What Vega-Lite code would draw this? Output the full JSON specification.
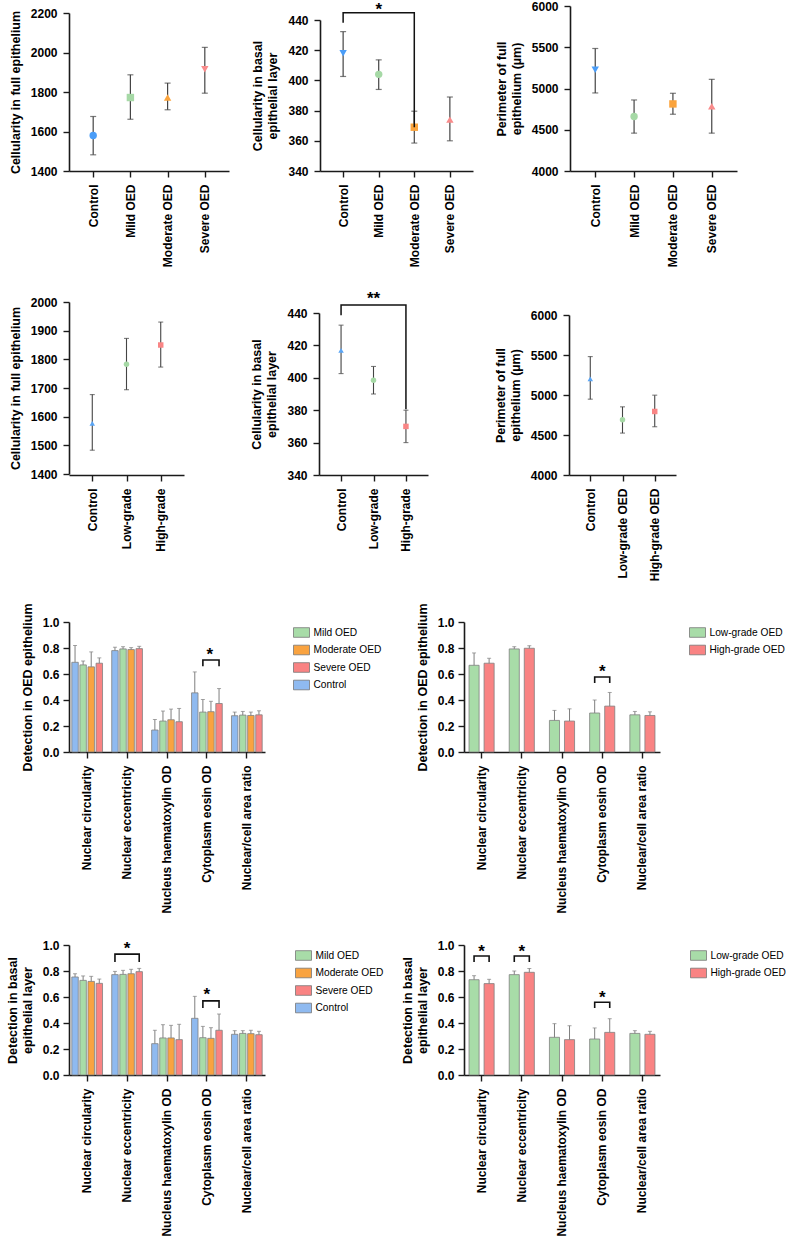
{
"$schema": "https://vega.github.io/schema/vega-lite/v6.json",
"background": "white",
"padding": {"left": 6, "top": 0, "right": 0, "bottom": 0},
"config": {
  "font": "Liberation Sans",
  "view": {"stroke": null},
  "axis": {"labelFont": "Liberation Sans", "labelFontSize": 12, "labelFontWeight": "bold", "labelColor": "#000", "titleFont": "Liberation Sans", "titleFontSize": 12.5, "titleFontWeight": "bold", "titleColor": "#000", "titleLineHeight": 15, "domainColor": "#1a1a1a", "domainWidth": 1.6, "tickColor": "#1a1a1a", "tickWidth": 1.4, "tickSize": 6, "grid": false, "labelPadding": 6, "titlePadding": 8, "labelOverlap": false, "labelFlush": false},
  "axisX": {"labelAngle": -90, "labelPadding": 7},
  "legend": {"symbolType": "M-1,-0.6H1V0.6H-1Z", "symbolSize": 256, "symbolStrokeColor": "#777", "symbolStrokeWidth": 0.8, "symbolOpacity": 1, "labelFont": "Liberation Sans", "labelFontSize": 10.2, "labelColor": "#000", "rowPadding": 2.5, "labelOffset": 3.5, "padding": 2, "orient": "right"}
},
"resolve": {"scale": {"color": "independent", "shape": "independent", "xOffset": "independent"}, "legend": {"color": "independent", "shape": "independent"}},
"spacing": 21,
"vconcat": [
{
"spacing": 23,
"resolve": {"scale": {"color": "independent", "shape": "independent"}, "legend": {"color": "independent", "shape": "independent"}},
"vconcat": [
{
 "hconcat": [
  {
   "width": 160, "height": 165,
   "data": {"values": [
     {"g": "Control", "mean": 1580, "lo": 1482, "hi": 1676},
     {"g": "Mild OED", "mean": 1772, "lo": 1662, "hi": 1887},
     {"g": "Moderate OED", "mean": 1772, "lo": 1710, "hi": 1845},
     {"g": "Severe OED", "mean": 1915, "lo": 1794, "hi": 2026}
   ]},
   "encoding": {"x": {"field": "g", "type": "nominal", "scale": {"type": "point", "padding": 0.65, "domain": ["Control", "Mild OED", "Moderate OED", "Severe OED"]}, "axis": {"title": null}}},
   "layer": [
    {"mark": {"type": "rule", "color": "#444", "strokeWidth": 1.2},
     "encoding": {"y": {"field": "lo", "type": "quantitative", "scale": {"domain": [1400, 2200], "range": [165, 7], "nice": false, "zero": false}, "axis": {"title": "Cellularity in full epithelium", "values": [1400, 1600, 1800, 2000, 2200], "format": "d"}}, "y2": {"field": "hi"}}},
    {"mark": {"type": "tick", "orient": "horizontal", "size": 6, "thickness": 1.2, "color": "#444"},
     "encoding": {"y": {"field": "lo", "type": "quantitative", "scale": {"domain": [1400, 2200], "range": [165, 7], "nice": false, "zero": false}, "axis": {"title": "Cellularity in full epithelium", "values": [1400, 1600, 1800, 2000, 2200], "format": "d"}}}},
    {"mark": {"type": "tick", "orient": "horizontal", "size": 6, "thickness": 1.2, "color": "#444"},
     "encoding": {"y": {"field": "hi", "type": "quantitative", "scale": {"domain": [1400, 2200], "range": [165, 7], "nice": false, "zero": false}, "axis": {"title": "Cellularity in full epithelium", "values": [1400, 1600, 1800, 2000, 2200], "format": "d"}}}},
    {"mark": {"type": "point", "filled": true, "opacity": 1, "size": 55},
     "encoding": {"y": {"field": "mean", "type": "quantitative", "scale": {"domain": [1400, 2200], "range": [165, 7], "nice": false, "zero": false}, "axis": {"title": "Cellularity in full epithelium", "values": [1400, 1600, 1800, 2000, 2200], "format": "d"}},
       "color": {"field": "g", "type": "nominal", "scale": {"domain": ["Control", "Mild OED", "Moderate OED", "Severe OED"], "range": ["#4a9df8", "#a6d9a6", "#fba43d", "#f98b8b"]}, "legend": null},
       "shape": {"field": "g", "type": "nominal", "scale": {"domain": ["Control", "Mild OED", "Moderate OED", "Severe OED"], "range": ["circle", "square", "triangle-up", "triangle-down"]}, "legend": null}}}
   ]
  },
  {
   "width": 153, "height": 165,
   "data": {"values": [
     {"g": "Control", "mean": 418, "lo": 402.6, "hi": 432.3},
     {"g": "Mild OED", "mean": 404, "lo": 394, "hi": 413.6},
     {"g": "Moderate OED", "mean": 369, "lo": 358.5, "hi": 379.6},
     {"g": "Severe OED", "mean": 374, "lo": 360, "hi": 389}
   ]},
   "encoding": {"x": {"field": "g", "type": "nominal", "scale": {"type": "point", "padding": 0.65, "domain": ["Control", "Mild OED", "Moderate OED", "Severe OED"]}, "axis": {"title": null}}},
   "layer": [
    {"mark": {"type": "rule", "color": "#444", "strokeWidth": 1.2},
     "encoding": {"y": {"field": "lo", "type": "quantitative", "scale": {"domain": [340, 440], "range": [165, 14], "nice": false, "zero": false}, "axis": {"title": ["Cellularity in basal", "epithelial layer"], "values": [340, 360, 380, 400, 420, 440]}}, "y2": {"field": "hi"}}},
    {"mark": {"type": "tick", "orient": "horizontal", "size": 6, "thickness": 1.2, "color": "#444"},
     "encoding": {"y": {"field": "lo", "type": "quantitative", "scale": {"domain": [340, 440], "range": [165, 14], "nice": false, "zero": false}, "axis": {"title": ["Cellularity in basal", "epithelial layer"], "values": [340, 360, 380, 400, 420, 440]}}}},
    {"mark": {"type": "tick", "orient": "horizontal", "size": 6, "thickness": 1.2, "color": "#444"},
     "encoding": {"y": {"field": "hi", "type": "quantitative", "scale": {"domain": [340, 440], "range": [165, 14], "nice": false, "zero": false}, "axis": {"title": ["Cellularity in basal", "epithelial layer"], "values": [340, 360, 380, 400, 420, 440]}}}},
    {"mark": {"type": "point", "filled": true, "opacity": 1, "size": 55},
     "encoding": {"y": {"field": "mean", "type": "quantitative", "scale": {"domain": [340, 440], "range": [165, 14], "nice": false, "zero": false}, "axis": {"title": ["Cellularity in basal", "epithelial layer"], "values": [340, 360, 380, 400, 420, 440]}},
       "color": {"field": "g", "type": "nominal", "scale": {"domain": ["Control", "Mild OED", "Moderate OED", "Severe OED"], "range": ["#4a9df8", "#a6d9a6", "#fba43d", "#f98b8b"]}, "legend": null},
       "shape": {"field": "g", "type": "nominal", "scale": {"domain": ["Control", "Mild OED", "Moderate OED", "Severe OED"], "range": ["triangle-down", "circle", "square", "triangle-up"]}, "legend": null}}},
    {"data": {"values": [
       {"g": "Control", "v": 438.7, "o": 1},
       {"g": "Control", "v": 444.8, "o": 2},
       {"g": "Moderate OED", "v": 444.8, "o": 3},
       {"g": "Moderate OED", "v": 369.5, "o": 4}
     ]},
     "mark": {"type": "line", "color": "#111", "strokeWidth": 1.5, "strokeCap": "square"},
     "encoding": {"y": {"field": "v", "type": "quantitative", "scale": {"domain": [340, 440], "range": [165, 14], "nice": false, "zero": false}, "axis": {"title": ["Cellularity in basal", "epithelial layer"], "values": [340, 360, 380, 400, 420, 440]}}, "order": {"field": "o", "type": "quantitative"}}},
    {"data": {"values": [{"g": "Mild OED", "v": 449.5, "s": "*"}]},
     "mark": {"type": "text", "fontSize": 17, "fontWeight": "bold", "baseline": "alphabetic", "dy": 9, "color": "#000"},
     "encoding": {"y": {"field": "v", "type": "quantitative", "scale": {"domain": [340, 440], "range": [165, 14], "nice": false, "zero": false}, "axis": {"title": ["Cellularity in basal", "epithelial layer"], "values": [340, 360, 380, 400, 420, 440]}}, "text": {"field": "s"}}}
   ]
  },
  {
   "width": 167, "height": 165,
   "data": {"values": [
     {"g": "Control", "mean": 5227, "lo": 4946, "hi": 5485},
     {"g": "Mild OED", "mean": 4660, "lo": 4459, "hi": 4861},
     {"g": "Moderate OED", "mean": 4813, "lo": 4688, "hi": 4942},
     {"g": "Severe OED", "mean": 4785, "lo": 4459, "hi": 5111}
   ]},
   "encoding": {"x": {"field": "g", "type": "nominal", "scale": {"type": "point", "padding": 0.65, "domain": ["Control", "Mild OED", "Moderate OED", "Severe OED"]}, "axis": {"title": null}}},
   "layer": [
    {"mark": {"type": "rule", "color": "#444", "strokeWidth": 1.2},
     "encoding": {"y": {"field": "lo", "type": "quantitative", "scale": {"domain": [4000, 6000], "range": [165, 0], "nice": false, "zero": false}, "axis": {"title": ["Perimeter of full", "epithelium (µm)"], "values": [4000, 4500, 5000, 5500, 6000], "format": "d"}}, "y2": {"field": "hi"}}},
    {"mark": {"type": "tick", "orient": "horizontal", "size": 6, "thickness": 1.2, "color": "#444"},
     "encoding": {"y": {"field": "lo", "type": "quantitative", "scale": {"domain": [4000, 6000], "range": [165, 0], "nice": false, "zero": false}, "axis": {"title": ["Perimeter of full", "epithelium (µm)"], "values": [4000, 4500, 5000, 5500, 6000], "format": "d"}}}},
    {"mark": {"type": "tick", "orient": "horizontal", "size": 6, "thickness": 1.2, "color": "#444"},
     "encoding": {"y": {"field": "hi", "type": "quantitative", "scale": {"domain": [4000, 6000], "range": [165, 0], "nice": false, "zero": false}, "axis": {"title": ["Perimeter of full", "epithelium (µm)"], "values": [4000, 4500, 5000, 5500, 6000], "format": "d"}}}},
    {"mark": {"type": "point", "filled": true, "opacity": 1, "size": 55},
     "encoding": {"y": {"field": "mean", "type": "quantitative", "scale": {"domain": [4000, 6000], "range": [165, 0], "nice": false, "zero": false}, "axis": {"title": ["Perimeter of full", "epithelium (µm)"], "values": [4000, 4500, 5000, 5500, 6000], "format": "d"}},
       "color": {"field": "g", "type": "nominal", "scale": {"domain": ["Control", "Mild OED", "Moderate OED", "Severe OED"], "range": ["#4a9df8", "#a6d9a6", "#fba43d", "#f98b8b"]}, "legend": null},
       "shape": {"field": "g", "type": "nominal", "scale": {"domain": ["Control", "Mild OED", "Moderate OED", "Severe OED"], "range": ["triangle-down", "circle", "square", "triangle-up"]}, "legend": null}}}
   ]
  }
 ],
 "spacing": 22,
 "resolve": {"scale": {"color": "independent", "shape": "independent"}, "legend": {"color": "independent", "shape": "independent"}}
},
{
 "hconcat": [
  {
   "width": 115, "height": 173,
   "data": {"values": [
     {"g": "Control", "mean": 1577, "lo": 1483, "hi": 1677},
     {"g": "Low-grade", "mean": 1783, "lo": 1694, "hi": 1873},
     {"g": "High-grade", "mean": 1850, "lo": 1773, "hi": 1930}
   ]},
   "encoding": {"x": {"field": "g", "type": "nominal", "scale": {"type": "point", "padding": 0.68, "domain": ["Control", "Low-grade", "High-grade"]}, "axis": {"title": null}}},
   "layer": [
    {"mark": {"type": "rule", "color": "#444", "strokeWidth": 1.1},
     "encoding": {"y": {"field": "lo", "type": "quantitative", "scale": {"domain": [1400, 2000], "range": [172, 0], "nice": false, "zero": false}, "axis": {"title": "Cellularity in full epithelium", "values": [1400, 1500, 1600, 1700, 1800, 1900, 2000], "format": "d"}}, "y2": {"field": "hi"}}},
    {"mark": {"type": "tick", "orient": "horizontal", "size": 5, "thickness": 1.1, "color": "#444"},
     "encoding": {"y": {"field": "lo", "type": "quantitative", "scale": {"domain": [1400, 2000], "range": [172, 0], "nice": false, "zero": false}, "axis": {"title": "Cellularity in full epithelium", "values": [1400, 1500, 1600, 1700, 1800, 1900, 2000], "format": "d"}}}},
    {"mark": {"type": "tick", "orient": "horizontal", "size": 5, "thickness": 1.1, "color": "#444"},
     "encoding": {"y": {"field": "hi", "type": "quantitative", "scale": {"domain": [1400, 2000], "range": [172, 0], "nice": false, "zero": false}, "axis": {"title": "Cellularity in full epithelium", "values": [1400, 1500, 1600, 1700, 1800, 1900, 2000], "format": "d"}}}},
    {"mark": {"type": "point", "filled": true, "opacity": 1, "size": 30},
     "encoding": {"y": {"field": "mean", "type": "quantitative", "scale": {"domain": [1400, 2000], "range": [172, 0], "nice": false, "zero": false}, "axis": {"title": "Cellularity in full epithelium", "values": [1400, 1500, 1600, 1700, 1800, 1900, 2000], "format": "d"}},
       "color": {"field": "g", "type": "nominal", "scale": {"domain": ["Control", "Low-grade", "High-grade"], "range": ["#5aa5f5", "#a6d9a6", "#f98585"]}, "legend": null},
       "shape": {"field": "g", "type": "nominal", "scale": {"domain": ["Control", "Low-grade", "High-grade"], "range": ["triangle-up", "circle", "square"]}, "legend": null}}}
   ]
  },
  {
   "width": 109, "height": 173,
   "data": {"values": [
     {"g": "Control", "mean": 417, "lo": 402.6, "hi": 432.5},
     {"g": "Low-grade", "mean": 398.5, "lo": 390, "hi": 407},
     {"g": "High-grade", "mean": 370, "lo": 360, "hi": 380}
   ]},
   "encoding": {"x": {"field": "g", "type": "nominal", "scale": {"type": "point", "padding": 0.68, "domain": ["Control", "Low-grade", "High-grade"]}, "axis": {"title": null}}},
   "layer": [
    {"mark": {"type": "rule", "color": "#444", "strokeWidth": 1.1},
     "encoding": {"y": {"field": "lo", "type": "quantitative", "scale": {"domain": [340, 440], "range": [173, 11], "nice": false, "zero": false}, "axis": {"title": ["Cellularity in basal", "epithelial layer"], "values": [340, 360, 380, 400, 420, 440]}}, "y2": {"field": "hi"}}},
    {"mark": {"type": "tick", "orient": "horizontal", "size": 5, "thickness": 1.1, "color": "#444"},
     "encoding": {"y": {"field": "lo", "type": "quantitative", "scale": {"domain": [340, 440], "range": [173, 11], "nice": false, "zero": false}, "axis": {"title": ["Cellularity in basal", "epithelial layer"], "values": [340, 360, 380, 400, 420, 440]}}}},
    {"mark": {"type": "tick", "orient": "horizontal", "size": 5, "thickness": 1.1, "color": "#444"},
     "encoding": {"y": {"field": "hi", "type": "quantitative", "scale": {"domain": [340, 440], "range": [173, 11], "nice": false, "zero": false}, "axis": {"title": ["Cellularity in basal", "epithelial layer"], "values": [340, 360, 380, 400, 420, 440]}}}},
    {"mark": {"type": "point", "filled": true, "opacity": 1, "size": 30},
     "encoding": {"y": {"field": "mean", "type": "quantitative", "scale": {"domain": [340, 440], "range": [173, 11], "nice": false, "zero": false}, "axis": {"title": ["Cellularity in basal", "epithelial layer"], "values": [340, 360, 380, 400, 420, 440]}},
       "color": {"field": "g", "type": "nominal", "scale": {"domain": ["Control", "Low-grade", "High-grade"], "range": ["#5aa5f5", "#a6d9a6", "#f98585"]}, "legend": null},
       "shape": {"field": "g", "type": "nominal", "scale": {"domain": ["Control", "Low-grade", "High-grade"], "range": ["triangle-up", "circle", "square"]}, "legend": null}}},
    {"data": {"values": [
       {"g": "Control", "v": 439, "o": 1},
       {"g": "Control", "v": 445, "o": 2},
       {"g": "High-grade", "v": 445, "o": 3},
       {"g": "High-grade", "v": 381, "o": 4}
     ]},
     "mark": {"type": "line", "color": "#111", "strokeWidth": 1.5, "strokeCap": "square"},
     "encoding": {"y": {"field": "v", "type": "quantitative", "scale": {"domain": [340, 440], "range": [173, 11], "nice": false, "zero": false}, "axis": {"title": ["Cellularity in basal", "epithelial layer"], "values": [340, 360, 380, 400, 420, 440]}}, "order": {"field": "o", "type": "quantitative"}}},
    {"data": {"values": [{"g": "Low-grade", "v": 451, "s": "**"}]},
     "mark": {"type": "text", "fontSize": 17, "fontWeight": "bold", "baseline": "alphabetic", "dy": 9, "color": "#000"},
     "encoding": {"y": {"field": "v", "type": "quantitative", "scale": {"domain": [340, 440], "range": [173, 11], "nice": false, "zero": false}, "axis": {"title": ["Cellularity in basal", "epithelial layer"], "values": [340, 360, 380, 400, 420, 440]}}, "text": {"field": "s"}}}
   ]
  },
  {
   "width": 107, "height": 173,
   "data": {"values": [
     {"g": "Control", "mean": 5202, "lo": 4948, "hi": 5480},
     {"g": "Low-grade OED", "mean": 4690, "lo": 4524, "hi": 4852},
     {"g": "High-grade OED", "mean": 4794, "lo": 4603, "hi": 4998}
   ]},
   "encoding": {"x": {"field": "g", "type": "nominal", "scale": {"type": "point", "padding": 0.66, "domain": ["Control", "Low-grade OED", "High-grade OED"]}, "axis": {"title": null}}},
   "layer": [
    {"mark": {"type": "rule", "color": "#444", "strokeWidth": 1.1},
     "encoding": {"y": {"field": "lo", "type": "quantitative", "scale": {"domain": [4000, 6000], "range": [173, 13], "nice": false, "zero": false}, "axis": {"title": ["Perimeter of full", "epithelium (µm)"], "values": [4000, 4500, 5000, 5500, 6000], "format": "d"}}, "y2": {"field": "hi"}}},
    {"mark": {"type": "tick", "orient": "horizontal", "size": 5, "thickness": 1.1, "color": "#444"},
     "encoding": {"y": {"field": "lo", "type": "quantitative", "scale": {"domain": [4000, 6000], "range": [173, 13], "nice": false, "zero": false}, "axis": {"title": ["Perimeter of full", "epithelium (µm)"], "values": [4000, 4500, 5000, 5500, 6000], "format": "d"}}}},
    {"mark": {"type": "tick", "orient": "horizontal", "size": 5, "thickness": 1.1, "color": "#444"},
     "encoding": {"y": {"field": "hi", "type": "quantitative", "scale": {"domain": [4000, 6000], "range": [173, 13], "nice": false, "zero": false}, "axis": {"title": ["Perimeter of full", "epithelium (µm)"], "values": [4000, 4500, 5000, 5500, 6000], "format": "d"}}}},
    {"mark": {"type": "point", "filled": true, "opacity": 1, "size": 30},
     "encoding": {"y": {"field": "mean", "type": "quantitative", "scale": {"domain": [4000, 6000], "range": [173, 13], "nice": false, "zero": false}, "axis": {"title": ["Perimeter of full", "epithelium (µm)"], "values": [4000, 4500, 5000, 5500, 6000], "format": "d"}},
       "color": {"field": "g", "type": "nominal", "scale": {"domain": ["Control", "Low-grade OED", "High-grade OED"], "range": ["#5aa5f5", "#a6d9a6", "#f98585"]}, "legend": null},
       "shape": {"field": "g", "type": "nominal", "scale": {"domain": ["Control", "Low-grade OED", "High-grade OED"], "range": ["triangle-up", "circle", "square"]}, "legend": null}}}
   ]
  }
 ],
 "spacing": 66,
 "resolve": {"scale": {"color": "independent", "shape": "independent"}, "legend": {"color": "independent", "shape": "independent"}}
}
]
},
{
"spacing": 25,
"resolve": {"scale": {"color": "independent", "xOffset": "independent"}, "legend": {"color": "independent"}},
"vconcat": [
{
 "hconcat": [
  {
   "width": 196, "height": 130,
   "data": {"values": [
     {"m": "Nuclear circularity", "g": "Control", "v": 0.69, "e": 0.82},
     {"m": "Nuclear circularity", "g": "Mild OED", "v": 0.67, "e": 0.70},
     {"m": "Nuclear circularity", "g": "Moderate OED", "v": 0.655, "e": 0.77},
     {"m": "Nuclear circularity", "g": "Severe OED", "v": 0.683, "e": 0.724},
     {"m": "Nuclear eccentricity", "g": "Control", "v": 0.78, "e": 0.806},
     {"m": "Nuclear eccentricity", "g": "Mild OED", "v": 0.793, "e": 0.81},
     {"m": "Nuclear eccentricity", "g": "Moderate OED", "v": 0.788, "e": 0.803},
     {"m": "Nuclear eccentricity", "g": "Severe OED", "v": 0.795, "e": 0.813},
     {"m": "Nucleus haematoxylin OD", "g": "Control", "v": 0.169, "e": 0.25},
     {"m": "Nucleus haematoxylin OD", "g": "Mild OED", "v": 0.238, "e": 0.315},
     {"m": "Nucleus haematoxylin OD", "g": "Moderate OED", "v": 0.248, "e": 0.33},
     {"m": "Nucleus haematoxylin OD", "g": "Severe OED", "v": 0.233, "e": 0.335},
     {"m": "Cytoplasm eosin OD", "g": "Control", "v": 0.455, "e": 0.616},
     {"m": "Cytoplasm eosin OD", "g": "Mild OED", "v": 0.307, "e": 0.404},
     {"m": "Cytoplasm eosin OD", "g": "Moderate OED", "v": 0.31, "e": 0.39},
     {"m": "Cytoplasm eosin OD", "g": "Severe OED", "v": 0.373, "e": 0.488},
     {"m": "Nuclear/cell area ratio", "g": "Control", "v": 0.279, "e": 0.307},
     {"m": "Nuclear/cell area ratio", "g": "Mild OED", "v": 0.284, "e": 0.312},
     {"m": "Nuclear/cell area ratio", "g": "Moderate OED", "v": 0.281, "e": 0.307},
     {"m": "Nuclear/cell area ratio", "g": "Severe OED", "v": 0.286, "e": 0.317}
   ]},
   "encoding": {
     "x": {"field": "m", "type": "nominal", "scale": {"domain": ["Nuclear circularity", "Nuclear eccentricity", "Nucleus haematoxylin OD", "Cytoplasm eosin OD", "Nuclear/cell area ratio"], "paddingInner": 0.19, "paddingOuter": 0.05}, "axis": {"title": null}},
     "xOffset": {"field": "g", "type": "nominal", "scale": {"domain": ["Control", "Mild OED", "Moderate OED", "Severe OED"], "paddingInner": 0.2, "paddingOuter": 0.1}},
     "y": {"field": "v", "type": "quantitative", "scale": {"domain": [0, 1], "nice": false}, "axis": {"title": "Detection in OED epithelium", "values": [0, 0.2, 0.4, 0.6, 0.8, 1.0], "format": ".1f", "labelPadding": 4}}
   },
   "layer": [
    {"mark": {"type": "bar", "stroke": "#808080", "strokeWidth": 0.8},
     "encoding": {"color": {"field": "g", "type": "nominal", "scale": {"domain": ["Mild OED", "Moderate OED", "Severe OED", "Control"], "range": ["#a8dca8", "#f9a340", "#f98383", "#8fbaf0"]}, "legend": {"title": null, "offset": 26}}}},
    {"mark": {"type": "rule", "color": "#7f7f7f", "strokeWidth": 1},
     "encoding": {"y2": {"field": "e"}}},
    {"mark": {"type": "tick", "orient": "horizontal", "size": 4, "thickness": 1, "color": "#7f7f7f"},
     "encoding": {"y": {"field": "e", "type": "quantitative", "scale": {"domain": [0, 1], "nice": false}, "axis": {"title": "Detection in OED epithelium", "values": [0, 0.2, 0.4, 0.6, 0.8, 1.0], "format": ".1f", "labelPadding": 4}}}},
    {"data": {"values": [
       {"m": "Cytoplasm eosin OD", "g": "Mild OED", "v": 0.66, "o": 1},
       {"m": "Cytoplasm eosin OD", "g": "Mild OED", "v": 0.708, "o": 2},
       {"m": "Cytoplasm eosin OD", "g": "Severe OED", "v": 0.708, "o": 3},
       {"m": "Cytoplasm eosin OD", "g": "Severe OED", "v": 0.66, "o": 4}
     ]},
     "mark": {"type": "line", "color": "#111", "strokeWidth": 1.6},
     "encoding": {"order": {"field": "o", "type": "quantitative"}}},
    {"data": {"values": [{"m": "Cytoplasm eosin OD", "v": 0.78, "s": "*"}]},
     "mark": {"type": "text", "fontSize": 17, "fontWeight": "bold", "baseline": "alphabetic", "dy": 9, "dx": 3, "color": "#000"},
     "encoding": {"xOffset": null, "text": {"field": "s"}}}
   ]
  },
  {
   "width": 196, "height": 130,
   "data": {"values": [
     {"m": "Nuclear circularity", "g": "Low-grade OED", "v": 0.667, "e": 0.762},
     {"m": "Nuclear circularity", "g": "High-grade OED", "v": 0.683, "e": 0.721},
     {"m": "Nuclear eccentricity", "g": "Low-grade OED", "v": 0.793, "e": 0.81},
     {"m": "Nuclear eccentricity", "g": "High-grade OED", "v": 0.798, "e": 0.818},
     {"m": "Nucleus haematoxylin OD", "g": "Low-grade OED", "v": 0.243, "e": 0.32},
     {"m": "Nucleus haematoxylin OD", "g": "High-grade OED", "v": 0.238, "e": 0.332},
     {"m": "Cytoplasm eosin OD", "g": "Low-grade OED", "v": 0.30, "e": 0.40},
     {"m": "Cytoplasm eosin OD", "g": "High-grade OED", "v": 0.353, "e": 0.458},
     {"m": "Nuclear/cell area ratio", "g": "Low-grade OED", "v": 0.286, "e": 0.312},
     {"m": "Nuclear/cell area ratio", "g": "High-grade OED", "v": 0.281, "e": 0.309}
   ]},
   "encoding": {
     "x": {"field": "m", "type": "nominal", "scale": {"domain": ["Nuclear circularity", "Nuclear eccentricity", "Nucleus haematoxylin OD", "Cytoplasm eosin OD", "Nuclear/cell area ratio"], "paddingInner": 0.375, "paddingOuter": 0.125}, "axis": {"title": null}},
     "xOffset": {"field": "g", "type": "nominal", "scale": {"domain": ["Low-grade OED", "High-grade OED"], "paddingInner": 0.33, "paddingOuter": 0}},
     "y": {"field": "v", "type": "quantitative", "scale": {"domain": [0, 1], "nice": false}, "axis": {"title": "Detection in OED epithelium", "values": [0, 0.2, 0.4, 0.6, 0.8, 1.0], "format": ".1f", "labelPadding": 4}}
   },
   "layer": [
    {"mark": {"type": "bar", "stroke": "#808080", "strokeWidth": 0.8},
     "encoding": {"color": {"field": "g", "type": "nominal", "scale": {"domain": ["Low-grade OED", "High-grade OED"], "range": ["#a8dca8", "#f98383"]}, "legend": {"title": null, "offset": 27}}}},
    {"mark": {"type": "rule", "color": "#7f7f7f", "strokeWidth": 1},
     "encoding": {"y2": {"field": "e"}}},
    {"mark": {"type": "tick", "orient": "horizontal", "size": 4, "thickness": 1, "color": "#7f7f7f"},
     "encoding": {"y": {"field": "e", "type": "quantitative", "scale": {"domain": [0, 1], "nice": false}, "axis": {"title": "Detection in OED epithelium", "values": [0, 0.2, 0.4, 0.6, 0.8, 1.0], "format": ".1f", "labelPadding": 4}}}},
    {"data": {"values": [
       {"m": "Cytoplasm eosin OD", "g": "Low-grade OED", "v": 0.53, "o": 1},
       {"m": "Cytoplasm eosin OD", "g": "Low-grade OED", "v": 0.577, "o": 2},
       {"m": "Cytoplasm eosin OD", "g": "High-grade OED", "v": 0.577, "o": 3},
       {"m": "Cytoplasm eosin OD", "g": "High-grade OED", "v": 0.53, "o": 4}
     ]},
     "mark": {"type": "line", "color": "#111", "strokeWidth": 1.6},
     "encoding": {"order": {"field": "o", "type": "quantitative"}}},
    {"data": {"values": [{"m": "Cytoplasm eosin OD", "v": 0.646, "s": "*"}]},
     "mark": {"type": "text", "fontSize": 17, "fontWeight": "bold", "baseline": "alphabetic", "dy": 9, "color": "#000"},
     "encoding": {"xOffset": null, "text": {"field": "s"}}}
   ]
  }
 ],
 "spacing": 32,
 "resolve": {"scale": {"color": "independent", "xOffset": "independent"}, "legend": {"color": "independent"}}
},
{
 "hconcat": [
  {
   "width": 196, "height": 130,
   "data": {"values": [
     {"m": "Nuclear circularity", "g": "Control", "v": 0.754, "e": 0.779},
     {"m": "Nuclear circularity", "g": "Mild OED", "v": 0.728, "e": 0.762},
     {"m": "Nuclear circularity", "g": "Moderate OED", "v": 0.72, "e": 0.759},
     {"m": "Nuclear circularity", "g": "Severe OED", "v": 0.705, "e": 0.738},
     {"m": "Nuclear eccentricity", "g": "Control", "v": 0.772, "e": 0.797},
     {"m": "Nuclear eccentricity", "g": "Mild OED", "v": 0.774, "e": 0.805},
     {"m": "Nuclear eccentricity", "g": "Moderate OED", "v": 0.779, "e": 0.813},
     {"m": "Nuclear eccentricity", "g": "Severe OED", "v": 0.795, "e": 0.82},
     {"m": "Nucleus haematoxylin OD", "g": "Control", "v": 0.241, "e": 0.344},
     {"m": "Nucleus haematoxylin OD", "g": "Mild OED", "v": 0.285, "e": 0.387},
     {"m": "Nucleus haematoxylin OD", "g": "Moderate OED", "v": 0.285, "e": 0.382},
     {"m": "Nucleus haematoxylin OD", "g": "Severe OED", "v": 0.272, "e": 0.39},
     {"m": "Cytoplasm eosin OD", "g": "Control", "v": 0.436, "e": 0.605},
     {"m": "Cytoplasm eosin OD", "g": "Mild OED", "v": 0.287, "e": 0.374},
     {"m": "Cytoplasm eosin OD", "g": "Moderate OED", "v": 0.282, "e": 0.364},
     {"m": "Cytoplasm eosin OD", "g": "Severe OED", "v": 0.344, "e": 0.469},
     {"m": "Nuclear/cell area ratio", "g": "Control", "v": 0.313, "e": 0.341},
     {"m": "Nuclear/cell area ratio", "g": "Mild OED", "v": 0.32, "e": 0.341},
     {"m": "Nuclear/cell area ratio", "g": "Moderate OED", "v": 0.318, "e": 0.344},
     {"m": "Nuclear/cell area ratio", "g": "Severe OED", "v": 0.31, "e": 0.336}
   ]},
   "encoding": {
     "x": {"field": "m", "type": "nominal", "scale": {"domain": ["Nuclear circularity", "Nuclear eccentricity", "Nucleus haematoxylin OD", "Cytoplasm eosin OD", "Nuclear/cell area ratio"], "paddingInner": 0.19, "paddingOuter": 0.05}, "axis": {"title": null}},
     "xOffset": {"field": "g", "type": "nominal", "scale": {"domain": ["Control", "Mild OED", "Moderate OED", "Severe OED"], "paddingInner": 0.2, "paddingOuter": 0.1}},
     "y": {"field": "v", "type": "quantitative", "scale": {"domain": [0, 1], "nice": false}, "axis": {"title": ["Detection in basal", "epithelial layer"], "values": [0, 0.2, 0.4, 0.6, 0.8, 1.0], "format": ".1f", "labelPadding": 4}}
   },
   "layer": [
    {"mark": {"type": "bar", "stroke": "#808080", "strokeWidth": 0.8},
     "encoding": {"color": {"field": "g", "type": "nominal", "scale": {"domain": ["Mild OED", "Moderate OED", "Severe OED", "Control"], "range": ["#a8dca8", "#f9a340", "#f98383", "#8fbaf0"]}, "legend": {"title": null, "offset": 28}}}},
    {"mark": {"type": "rule", "color": "#7f7f7f", "strokeWidth": 1},
     "encoding": {"y2": {"field": "e"}}},
    {"mark": {"type": "tick", "orient": "horizontal", "size": 4, "thickness": 1, "color": "#7f7f7f"},
     "encoding": {"y": {"field": "e", "type": "quantitative", "scale": {"domain": [0, 1], "nice": false}, "axis": {"title": ["Detection in basal", "epithelial layer"], "values": [0, 0.2, 0.4, 0.6, 0.8, 1.0], "format": ".1f", "labelPadding": 4}}}},
    {"data": {"values": [
       {"m": "Nuclear eccentricity", "g": "Control", "b": "b1", "v": 0.87, "o": 1},
       {"m": "Nuclear eccentricity", "g": "Control", "b": "b1", "v": 0.93, "o": 2},
       {"m": "Nuclear eccentricity", "g": "Severe OED", "b": "b1", "v": 0.93, "o": 3},
       {"m": "Nuclear eccentricity", "g": "Severe OED", "b": "b1", "v": 0.87, "o": 4},
       {"m": "Cytoplasm eosin OD", "g": "Mild OED", "b": "b2", "v": 0.515, "o": 1},
       {"m": "Cytoplasm eosin OD", "g": "Mild OED", "b": "b2", "v": 0.57, "o": 2},
       {"m": "Cytoplasm eosin OD", "g": "Severe OED", "b": "b2", "v": 0.57, "o": 3},
       {"m": "Cytoplasm eosin OD", "g": "Severe OED", "b": "b2", "v": 0.515, "o": 4}
     ]},
     "mark": {"type": "line", "color": "#111", "strokeWidth": 1.6},
     "encoding": {"detail": {"field": "b"}, "order": {"field": "o", "type": "quantitative"}}},
    {"data": {"values": [{"m": "Nuclear eccentricity", "v": 1.0, "s": "*"}, {"m": "Cytoplasm eosin OD", "v": 0.646, "s": "*"}]},
     "mark": {"type": "text", "fontSize": 17, "fontWeight": "bold", "baseline": "alphabetic", "dy": 9, "color": "#000"},
     "encoding": {"xOffset": null, "text": {"field": "s"}}}
   ]
  },
  {
   "width": 196, "height": 130,
   "data": {"values": [
     {"m": "Nuclear circularity", "g": "Low-grade OED", "v": 0.733, "e": 0.764},
     {"m": "Nuclear circularity", "g": "High-grade OED", "v": 0.703, "e": 0.736},
     {"m": "Nuclear eccentricity", "g": "Low-grade OED", "v": 0.772, "e": 0.80},
     {"m": "Nuclear eccentricity", "g": "High-grade OED", "v": 0.79, "e": 0.82},
     {"m": "Nucleus haematoxylin OD", "g": "Low-grade OED", "v": 0.29, "e": 0.395},
     {"m": "Nucleus haematoxylin OD", "g": "High-grade OED", "v": 0.272, "e": 0.379},
     {"m": "Cytoplasm eosin OD", "g": "Low-grade OED", "v": 0.277, "e": 0.362},
     {"m": "Cytoplasm eosin OD", "g": "High-grade OED", "v": 0.328, "e": 0.433},
     {"m": "Nuclear/cell area ratio", "g": "Low-grade OED", "v": 0.32, "e": 0.341},
     {"m": "Nuclear/cell area ratio", "g": "High-grade OED", "v": 0.313, "e": 0.336}
   ]},
   "encoding": {
     "x": {"field": "m", "type": "nominal", "scale": {"domain": ["Nuclear circularity", "Nuclear eccentricity", "Nucleus haematoxylin OD", "Cytoplasm eosin OD", "Nuclear/cell area ratio"], "paddingInner": 0.375, "paddingOuter": 0.125}, "axis": {"title": null}},
     "xOffset": {"field": "g", "type": "nominal", "scale": {"domain": ["Low-grade OED", "High-grade OED"], "paddingInner": 0.33, "paddingOuter": 0}},
     "y": {"field": "v", "type": "quantitative", "scale": {"domain": [0, 1], "nice": false}, "axis": {"title": ["Detection in basal", "epithelial layer"], "values": [0, 0.2, 0.4, 0.6, 0.8, 1.0], "format": ".1f", "labelPadding": 4}}
   },
   "layer": [
    {"mark": {"type": "bar", "stroke": "#808080", "strokeWidth": 0.8},
     "encoding": {"color": {"field": "g", "type": "nominal", "scale": {"domain": ["Low-grade OED", "High-grade OED"], "range": ["#a8dca8", "#f98383"]}, "legend": {"title": null, "offset": 28}}}},
    {"mark": {"type": "rule", "color": "#7f7f7f", "strokeWidth": 1},
     "encoding": {"y2": {"field": "e"}}},
    {"mark": {"type": "tick", "orient": "horizontal", "size": 4, "thickness": 1, "color": "#7f7f7f"},
     "encoding": {"y": {"field": "e", "type": "quantitative", "scale": {"domain": [0, 1], "nice": false}, "axis": {"title": ["Detection in basal", "epithelial layer"], "values": [0, 0.2, 0.4, 0.6, 0.8, 1.0], "format": ".1f", "labelPadding": 4}}}},
    {"data": {"values": [
       {"m": "Nuclear circularity", "g": "Low-grade OED", "b": "b1", "v": 0.87, "o": 1},
       {"m": "Nuclear circularity", "g": "Low-grade OED", "b": "b1", "v": 0.915, "o": 2},
       {"m": "Nuclear circularity", "g": "High-grade OED", "b": "b1", "v": 0.915, "o": 3},
       {"m": "Nuclear circularity", "g": "High-grade OED", "b": "b1", "v": 0.87, "o": 4},
       {"m": "Nuclear eccentricity", "g": "Low-grade OED", "b": "b2", "v": 0.87, "o": 1},
       {"m": "Nuclear eccentricity", "g": "Low-grade OED", "b": "b2", "v": 0.915, "o": 2},
       {"m": "Nuclear eccentricity", "g": "High-grade OED", "b": "b2", "v": 0.915, "o": 3},
       {"m": "Nuclear eccentricity", "g": "High-grade OED", "b": "b2", "v": 0.87, "o": 4},
       {"m": "Cytoplasm eosin OD", "g": "Low-grade OED", "b": "b3", "v": 0.515, "o": 1},
       {"m": "Cytoplasm eosin OD", "g": "Low-grade OED", "b": "b3", "v": 0.56, "o": 2},
       {"m": "Cytoplasm eosin OD", "g": "High-grade OED", "b": "b3", "v": 0.56, "o": 3},
       {"m": "Cytoplasm eosin OD", "g": "High-grade OED", "b": "b3", "v": 0.515, "o": 4}
     ]},
     "mark": {"type": "line", "color": "#111", "strokeWidth": 1.6},
     "encoding": {"detail": {"field": "b"}, "order": {"field": "o", "type": "quantitative"}}},
    {"data": {"values": [{"m": "Nuclear circularity", "v": 0.98, "s": "*"}, {"m": "Nuclear eccentricity", "v": 0.98, "s": "*"}, {"m": "Cytoplasm eosin OD", "v": 0.62, "s": "*"}]},
     "mark": {"type": "text", "fontSize": 17, "fontWeight": "bold", "baseline": "alphabetic", "dy": 9, "color": "#000"},
     "encoding": {"xOffset": null, "text": {"field": "s"}}}
   ]
  }
 ],
 "spacing": 15,
 "resolve": {"scale": {"color": "independent", "xOffset": "independent"}, "legend": {"color": "independent"}}
}
]
}
]
}
